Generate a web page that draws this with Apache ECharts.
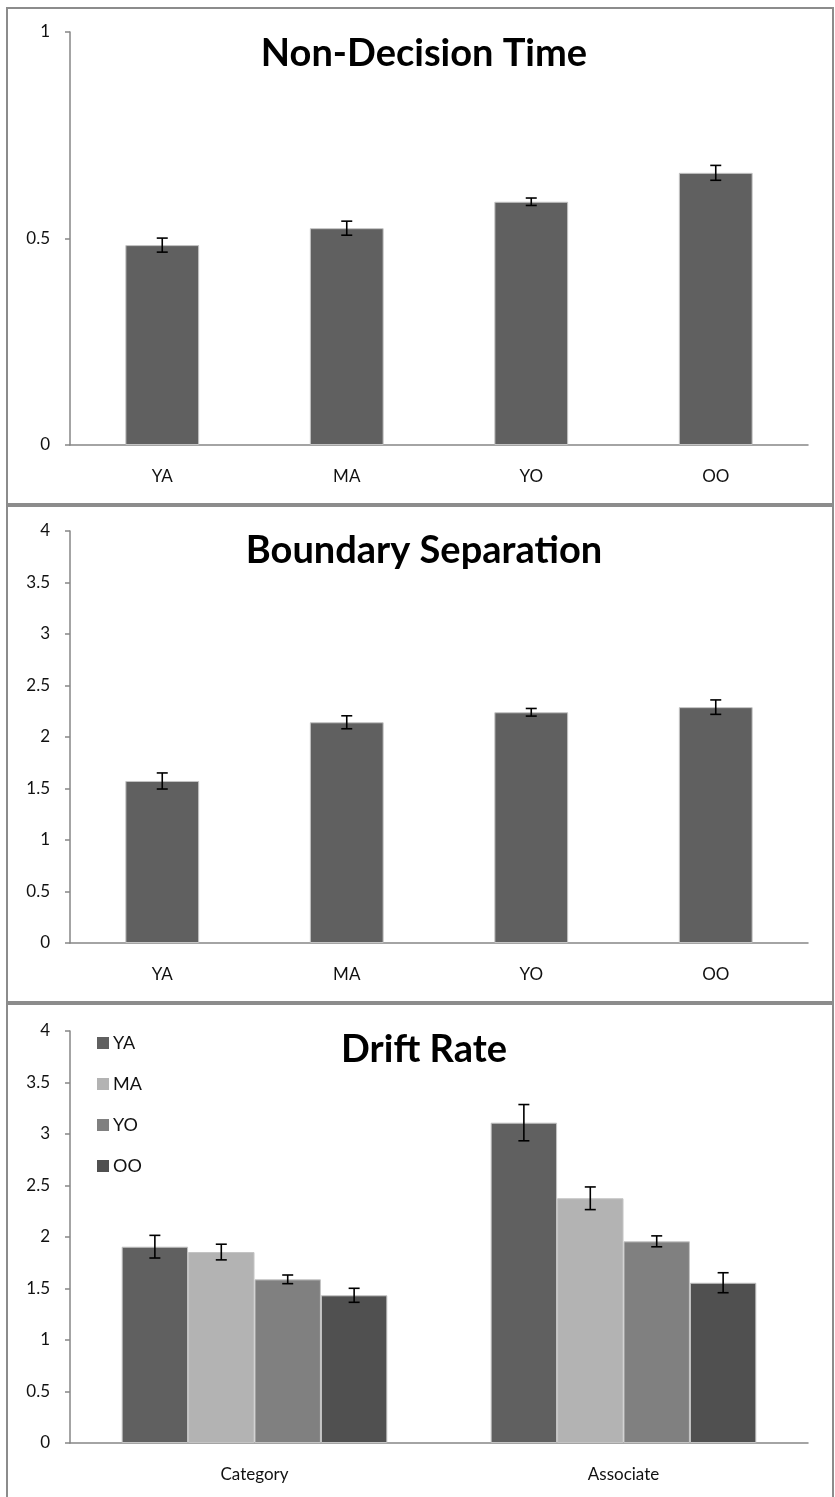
<!DOCTYPE html>
<html>
<head>
<meta charset="utf-8">
<script src="https://cdn.jsdelivr.net/npm/echarts@6/dist/echarts.min.js"></script>
<style>
html,body{margin:0;padding:0;background:#fff;}
#chart{width:835px;height:1497px;}
</style>
</head>
<body>
<div id="chart"></div>
<script>
// ---- data ----
const groups = ['YA', 'MA', 'YO', 'OO'];
const ndtValues = [0.484, 0.525, 0.589, 0.659];
const ndtErrors = [0.017, 0.017, 0.009, 0.018];
const bsValues = [1.573, 2.143, 2.240, 2.290];
const bsErrors = [0.078, 0.063, 0.037, 0.070];
const driftConditions = ['Category', 'Associate'];
const driftYA = [1.906, 3.110];
const driftYAErr = [0.110, 0.176];
const driftMA = [1.854, 2.376];
const driftMAErr = [0.076, 0.110];
const driftYO = [1.589, 1.958];
const driftYOErr = [0.042, 0.053];
const driftOO = [1.434, 1.556];
const driftOOErr = [0.068, 0.097];
const titles = ['Non-Decision Time', 'Boundary Separation', 'Drift Rate'];

const FONT = 'Lato';
const axisGray = '#868686';
const labelColor = '#111';

function errData(vals, errs) {
  return vals.map((v, i) => [i, v - errs[i], v + errs[i]]);
}
function errSeries(idx, data, offsetFrac, name) {
  return {
    type: 'custom', name: name, xAxisIndex: idx, yAxisIndex: idx, z: 10,
    silent: true,
    data: data,
    encode: { x: 0, y: [1, 2] },
    renderItem: function (params, api) {
      const x = api.value(0);
      const pLo = api.coord([x, api.value(1)]);
      const pHi = api.coord([x, api.value(2)]);
      const band = api.size([1, 0])[0];
      const cx = pLo[0] + offsetFrac * band;
      const w = 5.5;
      const st = { stroke: '#000', lineWidth: 1.6 };
      return {
        type: 'group',
        children: [
          { type: 'line', shape: { x1: cx, y1: pLo[1], x2: cx, y2: pHi[1] }, style: st },
          { type: 'line', shape: { x1: cx - w, y1: pHi[1], x2: cx + w, y2: pHi[1] }, style: st },
          { type: 'line', shape: { x1: cx - w, y1: pLo[1], x2: cx + w, y2: pLo[1] }, style: st }
        ]
      };
    }
  };
}

const grids = [
  { left: 70, top: 32, width: 738, height: 413 },
  { left: 70, top: 531, width: 738, height: 412 },
  { left: 70, top: 1031, width: 738, height: 412 }
];

function xAxis(idx, cats) {
  return {
    type: 'category', gridIndex: idx, data: cats,
    axisLine: { lineStyle: { color: axisGray, width: 1.5 } },
    axisTick: { length: 5, lineStyle: { color: axisGray, width: 1.5 } },
    axisLabel: { color: labelColor, fontFamily: FONT, fontSize: 17, margin: 23 }
  };
}
function yAxis(idx, max) {
  return {
    type: 'value', gridIndex: idx, min: 0, max: max, interval: 0.5,
    splitLine: { show: false },
    axisLine: { show: true, lineStyle: { color: axisGray, width: 1.5 } },
    axisTick: { show: true, length: 5, lineStyle: { color: axisGray, width: 1.5 } },
    axisLabel: { color: labelColor, fontFamily: FONT, fontSize: 17, margin: 20 }
  };
}

const barBorder = { borderColor: '#c4c4c4', borderWidth: 1 };
const driftColors = ['#606060', '#b3b3b3', '#808080', '#505050'];
const driftVals = [driftYA, driftMA, driftYO, driftOO];
const driftErrs = [driftYAErr, driftMAErr, driftYOErr, driftOOErr];
const offsets = [-0.27, -0.09, 0.09, 0.27];

const series = [
  { type: 'bar', name: 'ndt', xAxisIndex: 0, yAxisIndex: 0, data: ndtValues, barWidth: '40%',
    itemStyle: Object.assign({ color: '#606060' }, barBorder) },
  errSeries(0, errData(ndtValues, ndtErrors), 0, 'ndt err'),
  { type: 'bar', name: 'bs', xAxisIndex: 1, yAxisIndex: 1, data: bsValues, barWidth: '40%',
    itemStyle: Object.assign({ color: '#606060' }, barBorder) },
  errSeries(1, errData(bsValues, bsErrors), 0, 'bs err')
];
groups.forEach((g, i) => {
  series.push({
    type: 'bar', name: g, xAxisIndex: 2, yAxisIndex: 2, data: driftVals[i],
    barCategoryGap: '28%', barGap: '0%',
    itemStyle: Object.assign({ color: driftColors[i] }, barBorder)
  });
});
groups.forEach((g, i) => {
  series.push(errSeries(2, errData(driftVals[i], driftErrs[i]), offsets[i], g + ' err'));
});

const titleTops = [30, 527, 1026];
const option = {
  animation: false,
  backgroundColor: '#fff',
  title: titles.map((t, i) => ({
    text: t, left: 419, top: titleTops[i], textAlign: 'center',
    textStyle: { fontFamily: FONT, fontWeight: 'bold', fontSize: 38, color: '#000' }
  })),
  legend: {
    data: groups, orient: 'vertical', left: 92, top: 1029,
    icon: 'rect', itemWidth: 12, itemHeight: 12, itemGap: 23,
    itemStyle: { borderWidth: 0 },
    textStyle: { fontFamily: FONT, fontSize: 18, color: labelColor, padding: [0, 0, 0, -1] }
  },
  grid: grids,
  xAxis: [xAxis(0, groups), xAxis(1, groups), xAxis(2, driftConditions)],
  yAxis: [yAxis(0, 1), yAxis(1, 4), yAxis(2, 4)],
  series: series,
  graphic: [
    { type: 'rect', shape: { x: 7, y: 8, width: 826, height: 496 }, style: { fill: 'none', stroke: '#8c8c8c', lineWidth: 2 }, silent: true },
    { type: 'rect', shape: { x: 7, y: 506, width: 826, height: 496 }, style: { fill: 'none', stroke: '#8c8c8c', lineWidth: 2 }, silent: true },
    { type: 'rect', shape: { x: 7, y: 1004, width: 826, height: 510 }, style: { fill: 'none', stroke: '#8c8c8c', lineWidth: 2 }, silent: true }
  ]
};

const chart = echarts.init(document.getElementById('chart'), null, { renderer: 'canvas' });
chart.setOption(option);
</script>
</body>
</html>
